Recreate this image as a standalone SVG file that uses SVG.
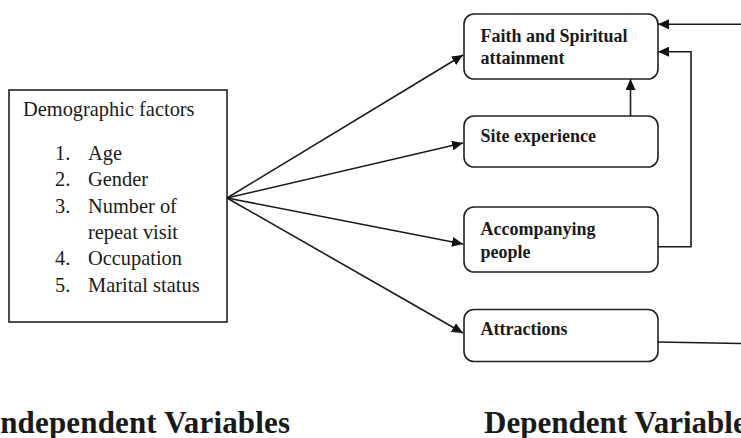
<svg xmlns="http://www.w3.org/2000/svg" width="741" height="438" viewBox="0 0 741 438">
<style>
.box{fill:#fff;stroke:#222;stroke-width:1.6}
.ln{fill:none;stroke:#1a1a1a;stroke-width:1.6}
.t{font-family:"Liberation Serif","Times New Roman",serif;font-size:20.4px;fill:#1a1a1a}
.b{font-family:"Liberation Serif","Times New Roman",serif;font-size:18px;font-weight:bold;fill:#1a1a1a}
.h{font-family:"Liberation Serif","Times New Roman",serif;font-size:31px;font-weight:bold;fill:#1a1a1a}
</style>
<defs>
<marker id="ah" markerUnits="userSpaceOnUse" markerWidth="12" markerHeight="10" refX="11" refY="5" orient="auto">
<path d="M0,0 L11,5 L0,10 z" fill="#111"/>
</marker>
</defs>
<g id="demographic">
<rect class="box" x="9" y="90" width="218" height="232"/>
<text class="t" x="23" y="115.5">Demographic factors</text>
<text class="t" x="55" y="160">1.</text><text class="t" x="88" y="160">Age</text>
<text class="t" x="55" y="186.3">2.</text><text class="t" x="88" y="186.3">Gender</text>
<text class="t" x="55" y="212.6">3.</text><text class="t" x="88" y="212.6">Number of</text>
<text class="t" x="88" y="238.9">repeat visit</text>
<text class="t" x="55" y="265.2">4.</text><text class="t" x="88" y="265.2">Occupation</text>
<text class="t" x="55" y="291.5">5.</text><text class="t" x="88" y="291.5">Marital status</text>
</g>
<g id="faith">
<rect class="box" x="464" y="14" width="194" height="65" rx="10"/>
<text class="b" x="480.5" y="41.5">Faith and Spiritual</text>
<text class="b" x="480.5" y="64">attainment</text>
</g>
<g id="site">
<rect class="box" x="464" y="116" width="194" height="51" rx="10"/>
<text class="b" x="480.5" y="141.5">Site experience</text>
</g>
<g id="accompanying">
<rect class="box" x="464" y="207" width="194" height="65" rx="10"/>
<text class="b" x="480.5" y="235">Accompanying</text>
<text class="b" x="480.5" y="258.3">people</text>
</g>
<g id="attractions">
<rect class="box" x="464" y="309.5" width="194" height="52" rx="10"/>
<text class="b" x="480.5" y="335">Attractions</text>
</g>
<g id="connectors">
<line class="ln" x1="227" y1="198" x2="463" y2="55" marker-end="url(#ah)"/>
<line class="ln" x1="227" y1="198" x2="463" y2="143" marker-end="url(#ah)"/>
<line class="ln" x1="227" y1="198" x2="463" y2="244" marker-end="url(#ah)"/>
<line class="ln" x1="227" y1="198" x2="463" y2="333" marker-end="url(#ah)"/>
<line class="ln" x1="630.5" y1="116" x2="630.5" y2="79" marker-end="url(#ah)"/>
<line class="ln" x1="745" y1="24.3" x2="658" y2="24.3" marker-end="url(#ah)"/>
<polyline class="ln" points="658,246.7 691,246.7 691,51.7 658,51.7" marker-end="url(#ah)"/>
<line class="ln" x1="658" y1="342" x2="745" y2="343.5"/>
</g>
<g id="labels">
<text class="h" x="-12" y="433" textLength="302">Independent Variables</text>
<text class="h" x="484" y="433">Dependent Variables</text>
</g>
</svg>
